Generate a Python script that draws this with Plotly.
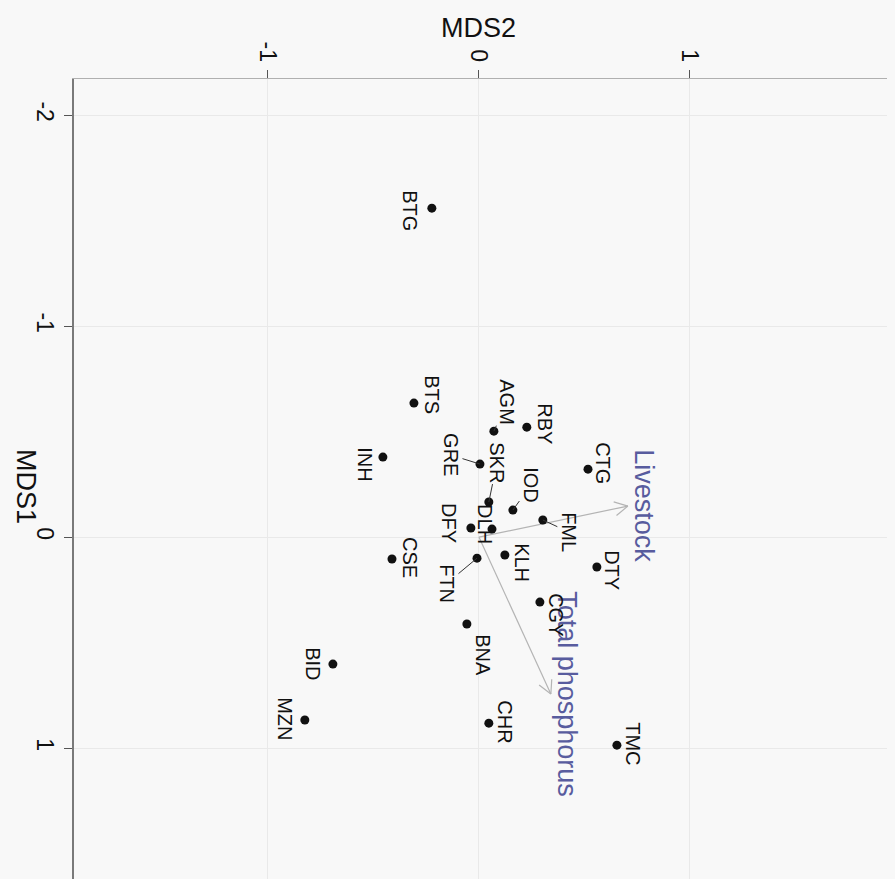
import numpy as np
import plotly.graph_objects as go

# ---- data ----
sites = ["BTG", "BTS", "INH", "AGM", "RBY", "GRE", "SKR", "IOD", "DLH", "DFY", "FML",
         "KLH", "FTN", "CSE", "CTG", "DTY", "CGY", "BNA", "BID", "MZN", "CHR", "TMC"]
mds1 = [-1.559, -0.635, -0.379, -0.502, -0.521, -0.346, -0.166, -0.128, -0.038, -0.043, -0.081,
        0.085, 0.100, 0.104, -0.322, 0.142, 0.308, 0.412, 0.602, 0.867, 0.882, 0.986]
mds2 = [-0.223, -0.308, -0.455, 0.071, 0.227, 0.005, 0.047, 0.161, 0.062, -0.038, 0.303,
        0.123, -0.009, -0.412, 0.517, 0.559, 0.289, -0.057, -0.692, -0.825, 0.047, 0.654]

env_names = ["Livestock", "Total phosphorus"]
env_mds1 = [-0.147, 0.744]
env_mds2 = [0.706, 0.341]

x_ticks = [-1, 0, 1]
x_tick_labels = ["-1", "0", "1"]
y_ticks = [-2, -1, 0, 1]
y_tick_labels = ["-2", "-1", "0", "1"]

# ---- label placement (pixel offsets; dy positive = down) and leader flags ----
label_offsets = {
    "BTG": (-22, 3, False), "BTS": (18, -8, False), "INH": (-18, 7, False),
    "AGM": (13, -29, True), "RBY": (18, -3, False), "GRE": (-29, -9, True),
    "SKR": (8, -39, True), "IOD": (18, -25, True), "DLH": (-7, -5, False),
    "DFY": (-22, -5, False), "FML": (26, 12, True), "KLH": (17, 8, False),
    "FTN": (-30, 25, True), "CSE": (18, -1, False), "CTG": (15, -6, False),
    "DTY": (15, 3, False), "CGY": (16, 13, False), "BNA": (16, 31, False),
    "BID": (-20, 0, False), "MZN": (-20, -1, False), "CHR": (16, -1, False),
    "TMC": (16, -1, False),
}

FONT = "Liberation Sans, Arial, sans-serif"
BG = "#f8f8f8"
ENV_TEXT = "#585c9e"
ENV_LINE = "#b4b4b4"

# page body has an 8px margin; compensate so the plot lands where the reference has it
W, H = 887, 871
ML, MT = 66, 71
PW, PH = W - ML, H - MT
PX_PER_UNIT = 211.0
X0 = -1.919
Y0 = -2.171

fig = go.Figure()

# environmental vectors (from origin)
for name, ey, ex in zip(env_names, env_mds1, env_mds2):
    fig.add_trace(go.Scatter(x=[0, ex], y=[0, ey], mode="lines",
                             line=dict(color=ENV_LINE, width=1.2),
                             hoverinfo="skip", showlegend=False))
    L = np.hypot(ex, ey)
    dx, dy = ex / L, ey / L
    hl = 0.07
    ang = np.deg2rad(28)
    hx, hy = [], []
    for s in (1, -1):
        c, sn = np.cos(s * ang), np.sin(s * ang)
        bx = dx * c - dy * sn
        by = dx * sn + dy * c
        hx += [ex - hl * bx, ex, None]
        hy += [ey - hl * by, ey, None]
    fig.add_trace(go.Scatter(x=hx, y=hy, mode="lines",
                             line=dict(color=ENV_LINE, width=1.2),
                             hoverinfo="skip", showlegend=False))
    fig.add_annotation(x=ex, y=ey, xref="x", yref="y", text=name, showarrow=False,
                       textangle=90, xshift=16, font=dict(family=FONT, size=27, color=ENV_TEXT))

# site points
fig.add_trace(go.Scatter(x=mds2, y=mds1, mode="markers",
                         marker=dict(size=9, color="#111111"),
                         text=sites, hoverinfo="text", showlegend=False))

for s, yv, xv in zip(sites, mds1, mds2):
    ox, oy, lead = label_offsets[s]
    if lead:
        fig.add_annotation(x=xv, y=yv, xref="x", yref="y", text=s, textangle=90,
                           showarrow=True, arrowhead=0, arrowwidth=1, arrowcolor="#333333",
                           ax=ox, ay=oy, standoff=0, startstandoff=0, borderpad=0,
                           font=dict(family=FONT, size=20, color="#111111"))
    else:
        fig.add_annotation(x=xv, y=yv, xref="x", yref="y", text=s, textangle=90,
                           showarrow=False, xshift=ox, yshift=-oy, borderpad=0,
                           font=dict(family=FONT, size=20, color="#111111"))

# axis titles (window pixel positions from the reference, minus the 8px body margin)
fig.add_annotation(x=(478 - 8 - ML) / PW, y=1, xref="paper", yref="paper",
                   text="MDS2", showarrow=False, xanchor="center", yanchor="middle",
                   yshift=(MT - (28 - 8)),
                   font=dict(family=FONT, size=27, color="#111111"))
fig.add_annotation(x=0, y=1 - (486 - 8 - MT) / PH, xref="paper", yref="paper",
                   text="MDS1", showarrow=False, textangle=90,
                   xanchor="center", yanchor="middle", xshift=(26 - 8) - ML,
                   font=dict(family=FONT, size=27, color="#111111"))

fig.update_layout(
    width=W, height=H,
    margin=dict(l=ML, r=0, t=MT, b=0),
    paper_bgcolor=BG, plot_bgcolor=BG,
    showlegend=False,
    font=dict(family=FONT, color="#111111"),
    xaxis=dict(side="top", range=[X0, X0 + PW / PX_PER_UNIT], tickvals=x_ticks,
               ticktext=x_tick_labels, tickangle=90,
               tickfont=dict(size=23, family=FONT, color="#111111"),
               ticks="outside", ticklen=8, tickcolor="#555555", tickwidth=1,
               showgrid=True, gridcolor="#e9e9e9", gridwidth=1, zeroline=False,
               showline=True, linecolor="#b0b0b0", linewidth=1),
    yaxis=dict(range=[Y0 + PH / PX_PER_UNIT, Y0], tickvals=y_ticks, ticktext=y_tick_labels,
               tickangle=90, tickfont=dict(size=23, family=FONT, color="#111111"),
               ticks="outside", ticklen=8, tickcolor="#555555", tickwidth=1,
               showgrid=True, gridcolor="#e9e9e9", gridwidth=1, zeroline=False,
               showline=True, linecolor="#7a7a7a", linewidth=1.5),
)

fig.write_html("out.html",
               post_script="document.documentElement.style.background='#f8f8f8';"
                           "document.body.style.background='#f8f8f8';")
